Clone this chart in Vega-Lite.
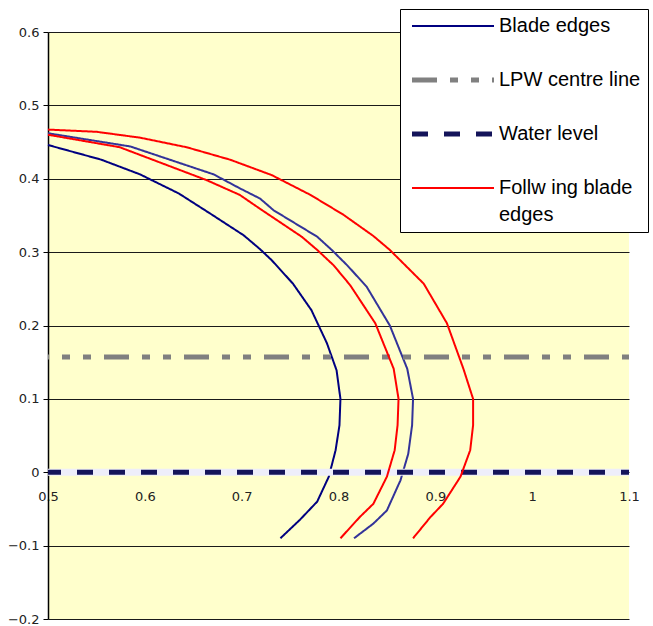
{
  "$schema": "https://vega.github.io/schema/vega-lite/v6.json",
  "width": 581,
  "height": 587,
  "autosize": "none",
  "padding": {"left": 48, "top": 32, "right": 24, "bottom": 7},
  "background": "#ffffff",
  "config": {"view": {"fill": "#FFFFCC", "stroke": null}},
  "data": {
    "values": [
      {"s": "Blade edges", "c": "b1", "i": 0, "x": 0.5, "y": 0.446},
      {"s": "Blade edges", "c": "b1", "i": 1, "x": 0.555, "y": 0.426},
      {"s": "Blade edges", "c": "b1", "i": 2, "x": 0.595, "y": 0.406},
      {"s": "Blade edges", "c": "b1", "i": 3, "x": 0.635, "y": 0.38},
      {"s": "Blade edges", "c": "b1", "i": 4, "x": 0.667, "y": 0.353},
      {"s": "Blade edges", "c": "b1", "i": 5, "x": 0.702, "y": 0.323},
      {"s": "Blade edges", "c": "b1", "i": 6, "x": 0.719, "y": 0.304},
      {"s": "Blade edges", "c": "b1", "i": 7, "x": 0.731, "y": 0.289},
      {"s": "Blade edges", "c": "b1", "i": 8, "x": 0.753, "y": 0.257},
      {"s": "Blade edges", "c": "b1", "i": 9, "x": 0.772, "y": 0.221},
      {"s": "Blade edges", "c": "b1", "i": 10, "x": 0.788, "y": 0.176},
      {"s": "Blade edges", "c": "b1", "i": 11, "x": 0.798, "y": 0.139},
      {"s": "Blade edges", "c": "b1", "i": 12, "x": 0.802, "y": 0.1},
      {"s": "Blade edges", "c": "b1", "i": 13, "x": 0.801, "y": 0.064},
      {"s": "Blade edges", "c": "b1", "i": 14, "x": 0.797, "y": 0.03},
      {"s": "Blade edges", "c": "b1", "i": 15, "x": 0.79, "y": -0.006},
      {"s": "Blade edges", "c": "b1", "i": 16, "x": 0.778, "y": -0.04},
      {"s": "Blade edges", "c": "b1", "i": 17, "x": 0.76, "y": -0.065},
      {"s": "Blade edges", "c": "b1", "i": 18, "x": 0.74, "y": -0.09},

      {"s": "Blade edges (2)", "c": "b2", "i": 0, "x": 0.5, "y": 0.462},
      {"s": "Blade edges (2)", "c": "b2", "i": 1, "x": 0.585, "y": 0.444},
      {"s": "Blade edges (2)", "c": "b2", "i": 2, "x": 0.671, "y": 0.406},
      {"s": "Blade edges (2)", "c": "b2", "i": 3, "x": 0.698, "y": 0.387},
      {"s": "Blade edges (2)", "c": "b2", "i": 4, "x": 0.719, "y": 0.373},
      {"s": "Blade edges (2)", "c": "b2", "i": 5, "x": 0.733, "y": 0.357},
      {"s": "Blade edges (2)", "c": "b2", "i": 6, "x": 0.778, "y": 0.321},
      {"s": "Blade edges (2)", "c": "b2", "i": 7, "x": 0.793, "y": 0.303},
      {"s": "Blade edges (2)", "c": "b2", "i": 8, "x": 0.809, "y": 0.282},
      {"s": "Blade edges (2)", "c": "b2", "i": 9, "x": 0.829, "y": 0.253},
      {"s": "Blade edges (2)", "c": "b2", "i": 10, "x": 0.853, "y": 0.2},
      {"s": "Blade edges (2)", "c": "b2", "i": 11, "x": 0.871, "y": 0.141},
      {"s": "Blade edges (2)", "c": "b2", "i": 12, "x": 0.877, "y": 0.1},
      {"s": "Blade edges (2)", "c": "b2", "i": 13, "x": 0.876, "y": 0.064},
      {"s": "Blade edges (2)", "c": "b2", "i": 14, "x": 0.872, "y": 0.025},
      {"s": "Blade edges (2)", "c": "b2", "i": 15, "x": 0.864, "y": -0.011},
      {"s": "Blade edges (2)", "c": "b2", "i": 16, "x": 0.85, "y": -0.052},
      {"s": "Blade edges (2)", "c": "b2", "i": 17, "x": 0.836, "y": -0.07},
      {"s": "Blade edges (2)", "c": "b2", "i": 18, "x": 0.816, "y": -0.09},

      {"s": "LPW centre line", "c": "lpw", "i": 0, "x": 0.5, "y": 0.157},
      {"s": "LPW centre line", "c": "lpw", "i": 1, "x": 1.1, "y": 0.157},

      {"s": "Water level", "c": "wl", "i": 0, "x": 0.5, "y": 0},
      {"s": "Water level", "c": "wl", "i": 1, "x": 1.1, "y": 0},

      {"s": "Follw ing blade edges", "c": "f1", "i": 0, "x": 0.5, "y": 0.46},
      {"s": "Follw ing blade edges", "c": "f1", "i": 1, "x": 0.574, "y": 0.443},
      {"s": "Follw ing blade edges", "c": "f1", "i": 2, "x": 0.664, "y": 0.398},
      {"s": "Follw ing blade edges", "c": "f1", "i": 3, "x": 0.698, "y": 0.378},
      {"s": "Follw ing blade edges", "c": "f1", "i": 4, "x": 0.719, "y": 0.359},
      {"s": "Follw ing blade edges", "c": "f1", "i": 5, "x": 0.762, "y": 0.321},
      {"s": "Follw ing blade edges", "c": "f1", "i": 6, "x": 0.778, "y": 0.303},
      {"s": "Follw ing blade edges", "c": "f1", "i": 7, "x": 0.795, "y": 0.282},
      {"s": "Follw ing blade edges", "c": "f1", "i": 8, "x": 0.812, "y": 0.255},
      {"s": "Follw ing blade edges", "c": "f1", "i": 9, "x": 0.838, "y": 0.203},
      {"s": "Follw ing blade edges", "c": "f1", "i": 10, "x": 0.857, "y": 0.141},
      {"s": "Follw ing blade edges", "c": "f1", "i": 11, "x": 0.862, "y": 0.1},
      {"s": "Follw ing blade edges", "c": "f1", "i": 12, "x": 0.861, "y": 0.064},
      {"s": "Follw ing blade edges", "c": "f1", "i": 13, "x": 0.858, "y": 0.03},
      {"s": "Follw ing blade edges", "c": "f1", "i": 14, "x": 0.85, "y": -0.006},
      {"s": "Follw ing blade edges", "c": "f1", "i": 15, "x": 0.836, "y": -0.043},
      {"s": "Follw ing blade edges", "c": "f1", "i": 16, "x": 0.822, "y": -0.061},
      {"s": "Follw ing blade edges", "c": "f1", "i": 17, "x": 0.802, "y": -0.09},

      {"s": "Follw ing blade edges", "c": "f2", "i": 0, "x": 0.5, "y": 0.467},
      {"s": "Follw ing blade edges", "c": "f2", "i": 1, "x": 0.55, "y": 0.464},
      {"s": "Follw ing blade edges", "c": "f2", "i": 2, "x": 0.595, "y": 0.456},
      {"s": "Follw ing blade edges", "c": "f2", "i": 3, "x": 0.643, "y": 0.443},
      {"s": "Follw ing blade edges", "c": "f2", "i": 4, "x": 0.688, "y": 0.426},
      {"s": "Follw ing blade edges", "c": "f2", "i": 5, "x": 0.731, "y": 0.405},
      {"s": "Follw ing blade edges", "c": "f2", "i": 6, "x": 0.771, "y": 0.378},
      {"s": "Follw ing blade edges", "c": "f2", "i": 7, "x": 0.805, "y": 0.351},
      {"s": "Follw ing blade edges", "c": "f2", "i": 8, "x": 0.836, "y": 0.322},
      {"s": "Follw ing blade edges", "c": "f2", "i": 9, "x": 0.853, "y": 0.303},
      {"s": "Follw ing blade edges", "c": "f2", "i": 10, "x": 0.869, "y": 0.282},
      {"s": "Follw ing blade edges", "c": "f2", "i": 11, "x": 0.888, "y": 0.257},
      {"s": "Follw ing blade edges", "c": "f2", "i": 12, "x": 0.912, "y": 0.203},
      {"s": "Follw ing blade edges", "c": "f2", "i": 13, "x": 0.929, "y": 0.141},
      {"s": "Follw ing blade edges", "c": "f2", "i": 14, "x": 0.939, "y": 0.1},
      {"s": "Follw ing blade edges", "c": "f2", "i": 15, "x": 0.939, "y": 0.064},
      {"s": "Follw ing blade edges", "c": "f2", "i": 16, "x": 0.936, "y": 0.03},
      {"s": "Follw ing blade edges", "c": "f2", "i": 17, "x": 0.926, "y": -0.006},
      {"s": "Follw ing blade edges", "c": "f2", "i": 18, "x": 0.908, "y": -0.043},
      {"s": "Follw ing blade edges", "c": "f2", "i": 19, "x": 0.895, "y": -0.061},
      {"s": "Follw ing blade edges", "c": "f2", "i": 20, "x": 0.877, "y": -0.09}
    ]
  },
  "encoding": {
    "x": {
      "field": "x", "type": "quantitative",
      "scale": {"domain": [0.5, 1.1], "nice": false, "zero": false},
      "axis": {
        "title": null, "orient": "bottom", "offset": -147,
        "values": [0.5, 0.6, 0.7, 0.8, 0.9, 1, 1.1], "format": ".1~f",
        "domain": false, "ticks": false, "grid": false,
        "labelPadding": 18, "labelFont": "DejaVu Sans", "labelFontSize": 13,
        "labelColor": "#222222", "labelFlush": false, "labelOverlap": false, "labelBound": false
      }
    },
    "y": {
      "field": "y", "type": "quantitative",
      "scale": {"domain": [-0.2, 0.6], "nice": false, "zero": false},
      "axis": {
        "title": null,
        "values": [-0.2, -0.1, 0, 0.1, 0.2, 0.3, 0.4, 0.5, 0.6], "format": ".1~f",
        "domain": true, "domainColor": "#000000", "domainWidth": 1.5,
        "ticks": true, "tickSize": 5, "tickColor": "#000000", "tickWidth": 1,
        "grid": true, "gridColor": "#1a1a1a", "gridWidth": 1, "gridOpacity": 1,
        "labelPadding": 4, "labelFont": "DejaVu Sans", "labelFontSize": 13, "labelColor": "#222222"
      }
    },
    "order": {"field": "i", "type": "quantitative"},
    "detail": {"field": "c", "type": "nominal"},
    "color": {
      "field": "s", "type": "nominal",
      "scale": {
        "domain": ["Blade edges", "Blade edges (2)", "LPW centre line", "Water level", "Follw ing blade edges"],
        "range": ["#000080", "#333399", "#808080", "#14145A", "#FF0000"]
      },
      "legend": {
        "orient": "none", "legendX": 352, "legendY": -23, "title": null,
        "values": ["Blade edges", "LPW centre line", "Water level", "Follw ing blade edges"],
        "symbolType": "M-1,0H15.4", "symbolSize": 100,
        "padding": 7, "rowPadding": 34, "labelOffset": 72,
        "labelFont": "Liberation Sans", "labelFontSize": 20, "labelColor": "#000000", "labelLimit": 400,
        "labelBaseline": "middle",
        "fillColor": "#ffffff", "strokeColor": "#000000",
        "labelExpr": "datum.label == 'Follw ing blade edges' ? ['Follw ing blade', 'edges'] : datum.label",
        "encode": {
          "symbols": {"update": {"strokeWidth": {"signal": "datum.value == 'LPW centre line' || datum.value == 'Water level' ? 5 : 2"}}},
          "labels": {"update": {"lineHeight": {"value": 27}}}
        }
      }
    },
    "strokeDash": {
      "field": "s", "type": "nominal",
      "scale": {
        "domain": ["Blade edges", "Blade edges (2)", "LPW centre line", "Water level", "Follw ing blade edges"],
        "range": [[1, 0], [1, 0], [25, 13, 8, 13, 8, 13], [16, 16], [1, 0]]
      }
    }
  },
  "layer": [
    {
      "transform": [{"filter": "datum.s == 'Blade edges' || datum.s == 'Blade edges (2)'"}],
      "mark": {"type": "line", "strokeWidth": 2}
    },
    {
      "transform": [{"filter": "datum.s == 'LPW centre line'"}],
      "mark": {"type": "line", "strokeWidth": 5, "strokeDashOffset": 24}
    },
    {
      "transform": [{"filter": "datum.s == 'Water level'"}],
      "mark": {"type": "line", "strokeWidth": 7},
      "encoding": {"color": {"value": "#EEEEFA"}, "strokeDash": {"value": [1, 0]}}
    },
    {
      "transform": [{"filter": "datum.s == 'Water level'"}],
      "mark": {"type": "line", "strokeWidth": 5, "strokeDashOffset": 3}
    },
    {
      "transform": [{"filter": "datum.s == 'Follw ing blade edges'"}],
      "mark": {"type": "line", "strokeWidth": 2}
    }
  ]
}
